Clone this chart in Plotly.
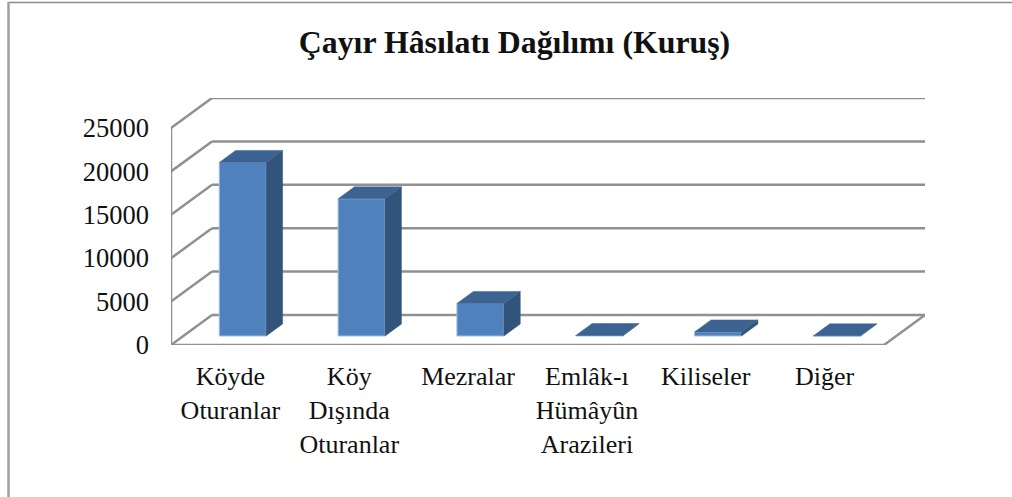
import plotly.graph_objects as go

title = "Çayır Hâsılatı Dağılımı (Kuruş)"
categories = ["Köyde<br>Oturanlar", "Köy<br>Dışında<br>Oturanlar", "Mezralar",
              "Emlâk-ı<br>Hümâyûn<br>Arazileri", "Kiliseler", "Diğer"]
values = [20000, 15800, 3750, 60, 470, 20]
y_ticks = [0, 5000, 10000, 15000, 20000, 25000]

# oblique projection of the 3D box onto the 2D axes
DX, DY = 0.345, 3456
Z0, Z1 = 0.3, 0.7
W = 0.395
FONT = "Liberation Serif"
GRID = "#909090"
FRONT, SIDE, TOP = "#4F81BD", "#32537A", "#3D6392"
EDGE = "#A5BFE0"
TEXT = "#111111"
WIDTH, HEIGHT = 1012, 497
ML, MR, MT, MB = 171, 87, 98, 152


def px(x, z):
    return x + z * DX


def py(v, z):
    return v + z * DY


def paper_x(pixels):
    return (pixels - ML) / (WIDTH - ML - MR)


def paper_y(pixels):
    return (HEIGHT - MB - pixels) / (HEIGHT - MT - MB)


idx = list(range(len(categories)))
fig = go.Figure()

fig.add_bar(x=[px(i, Z0) for i in idx], y=values, base=[py(0, Z0)] * len(idx), width=W,
            marker=dict(color=FRONT, line=dict(color=EDGE, width=1)), showlegend=False)

for i, v in zip(idx, values):
    l, r = i - W / 2, i + W / 2
    fig.add_scatter(
        x=[px(r, Z0), px(r, Z1), px(r, Z1), px(r, Z0), px(r, Z0)],
        y=[py(0, Z0), py(0, Z1), py(v, Z1), py(v, Z0), py(0, Z0)],
        mode="lines", fill="toself", fillcolor=SIDE, line=dict(color=SIDE, width=0.5), showlegend=False)
    fig.add_scatter(
        x=[px(l, Z0), px(r, Z0), px(r, Z1), px(l, Z1), px(l, Z0)],
        y=[py(v, Z0), py(v, Z0), py(v, Z1), py(v, Z1), py(v, Z0)],
        mode="lines", fill="toself", fillcolor=TOP, line=dict(color=TOP, width=0.5), showlegend=False)

shapes = []


def seg(x0, y0, x1, y1, color=GRID, width=2.5):
    shapes.append(dict(type="line", x0=x0, y0=y0, x1=x1, y1=y1, layer="below",
                       line=dict(color=color, width=width)))


x_min, x_max = -0.5, 5.5
for t in y_ticks:
    seg(px(x_min, 0), py(t, 0), px(x_min, 1), py(t, 1))
    seg(px(x_min, 1), py(t, 1), px(x_max, 1), py(t, 1))
seg(px(x_min, 0), 0, px(x_min, 0), y_ticks[-1])
seg(px(x_min, 0), 0, px(x_max, 0), 0)
seg(px(x_max, 0), 0, px(x_max, 1), py(0, 1))

# page frame
shapes.append(dict(type="line", xref="paper", yref="paper", x0=paper_x(8), x1=paper_x(WIDTH),
                   y0=paper_y(2.5), y1=paper_y(2.5), line=dict(color="#8a8a8a", width=1.5), layer="above"))
shapes.append(dict(type="line", xref="paper", yref="paper", x0=paper_x(8.5), x1=paper_x(8.5),
                   y0=paper_y(2), y1=paper_y(HEIGHT), line=dict(color="#a0a0a0", width=2.5), layer="above"))

fig.update_layout(
    width=WIDTH, height=HEIGHT,
    margin=dict(l=ML, r=MR, t=MT, b=MB, pad=0),
    paper_bgcolor="white", plot_bgcolor="white",
    showlegend=False,
    shapes=shapes,
    font=dict(family=FONT, color=TEXT, size=26),
    title=dict(text=f"<b>{title}</b>", x=514.5 / WIDTH, xanchor="center", y=1 - 42 / HEIGHT, yanchor="middle",
               font=dict(family=FONT, size=31.8, color=TEXT)),
    xaxis=dict(range=[x_min, x_max + DX], tickmode="array", tickvals=idx, ticktext=categories,
               showgrid=False, zeroline=False, showline=False, ticks="", ticklabelstandoff=13,
               tickfont=dict(family=FONT, size=26, color=TEXT)),
    yaxis=dict(range=[0, y_ticks[-1] + DY], tickmode="array", tickvals=y_ticks,
               ticktext=[str(t) for t in y_ticks], showgrid=False, zeroline=False, showline=False,
               ticks="", ticklabelstandoff=21, tickfont=dict(family=FONT, size=26.5, color=TEXT)),
)

fig.write_html("out.html", post_script="document.body.style.margin='0';",
               config=dict(displayModeBar=False))
